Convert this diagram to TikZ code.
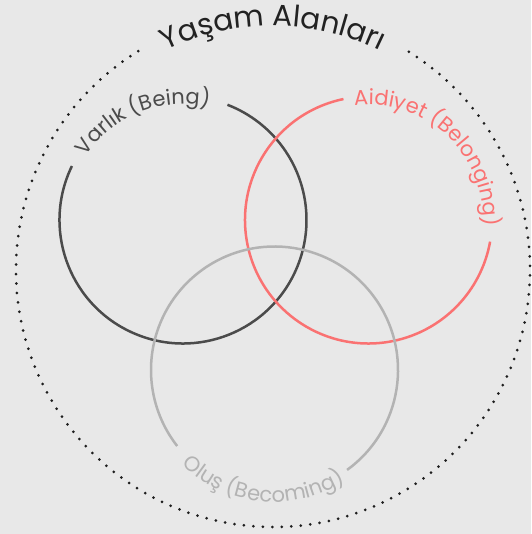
\documentclass[tikz,border=0pt]{standalone}
\usepackage{fontspec}
\setmainfont{Poppins}
\usetikzlibrary{decorations.text}
\definecolor{bgc}{HTML}{E8E8E8}
\definecolor{darkc}{HTML}{4B4B4B}
\definecolor{salmonc}{HTML}{FA7272}
\definecolor{lightc}{HTML}{B3B3B3}
\definecolor{dotc}{HTML}{1E1E1E}
\definecolor{titlec}{HTML}{222222}
\newcommand{\labfont}{\fontsize{21}{24}\selectfont}
\newcommand{\titfont}{\fontsize{29.5}{32}\selectfont}
\tikzset{
  ring/.style={line width=2.5pt},
  dotring/.style={line width=3pt, line cap=round, dash pattern=on 0pt off 9.5pt, draw=dotc},
}
\begin{document}
\begin{tikzpicture}[x=1pt,y=1pt]
\fill[bgc] (0,0) rectangle (531,534);
\useasboundingbox (0,0) rectangle (531,534);
% outer dotted ring
\coordinate (O) at (273,264);
\draw[dotring] (O) ++(121.6:257pt) arc[start angle=121.6, end angle=418.4, radius=257pt];
\path[decorate, decoration={text along path, text align=center,
  text={|\titfont\color{titlec}|Yaşam Alanları}}]
  (O) ++(130:244pt) arc[start angle=130, end angle=50, radius=244pt];
% Being
\coordinate (B) at (183,314);
\draw[ring, darkc] (B) ++(154.1:123.5pt) arc[start angle=154.1, end angle=428.9, radius=123.5pt];
\path[decorate, decoration={text along path, text align=center,
  text={|\labfont\color{darkc}|Varlık (Being)}}]
  (B) ++(160:116pt) arc[start angle=160, end angle=64, radius=116pt];
% Belonging
\coordinate (L) at (368.5,314);
\draw[ring, salmonc] (L) ++(101.7:123.5pt) arc[start angle=101.7, end angle=349.9, radius=123.5pt];
\path[decorate, decoration={text along path, text align=center,
  text={|\labfont\color{salmonc}|Aidiyet (Belonging)}}]
  (L) ++(106:115pt) arc[start angle=106, end angle=-12, radius=115pt];
% Becoming
\coordinate (C) at (274.5,164);
\draw[ring, lightc] (C) ++(306:123.5pt) arc[start angle=306, end angle=578, radius=123.5pt];
\path[decorate, decoration={text along path, text align=center,
  text={|\labfont\color{lightc}|Oluş (Becoming)}}]
  (C) ++(214:132pt) arc[start angle=214, end angle=314, radius=132pt];
\end{tikzpicture}
\end{document}
